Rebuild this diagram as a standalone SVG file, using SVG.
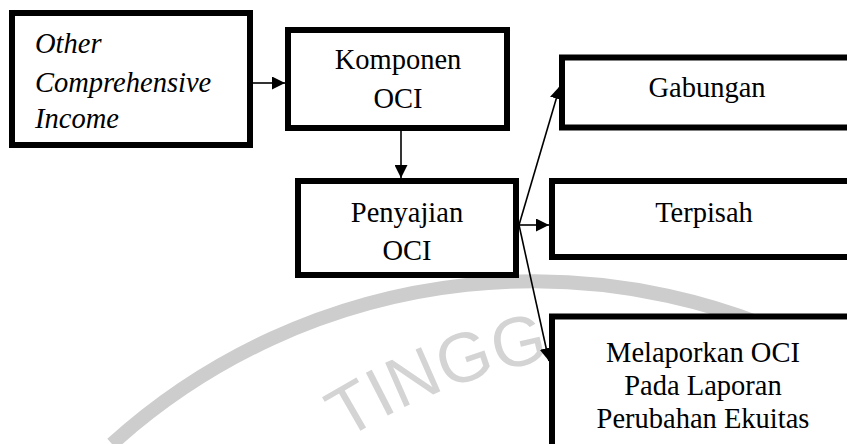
<svg xmlns="http://www.w3.org/2000/svg" width="847" height="444" viewBox="0 0 847 444">
<style>
.box{fill:#fff;stroke:#000;stroke-width:6}
.t{font-family:"Liberation Serif","Times New Roman",serif;font-size:28.5px;fill:#000}
.c{text-anchor:middle}
.i{font-style:italic}
.conn{stroke:#000;stroke-width:1.6;fill:none}
.wm{fill:none;stroke:#cdcdcd;stroke-width:14}
.wmt{font-family:"Liberation Sans",sans-serif;font-size:70px;fill:#d4d4d4}
</style>
<defs>
<marker id="ah" markerUnits="userSpaceOnUse" markerWidth="13" markerHeight="13" refX="13" refY="6.5" orient="auto">
<path d="M0,0 L13,6.5 L0,13 z" fill="#000"/>
</marker>
<path id="wmarc" d="M 345,440 A 600 600 0 0 1 625,350"/>
</defs>
<rect width="847" height="444" fill="#fff"/>
<g id="watermark">
<path class="wm" d="M 112,444 A 628 628 0 0 1 847,365"/>
<text class="wmt"><textPath href="#wmarc">TINGG</textPath></text>
</g>
<g id="connectors">
<line class="conn" x1="253" y1="83" x2="285" y2="83" marker-end="url(#ah)"/>
<line class="conn" x1="401" y1="131" x2="401" y2="178" marker-end="url(#ah)"/>
<line class="conn" x1="519" y1="225" x2="549" y2="225" marker-end="url(#ah)"/>
<line class="conn" x1="519" y1="225" x2="560" y2="86" marker-end="url(#ah)"/>
<line class="conn" x1="519" y1="225" x2="549" y2="361" marker-end="url(#ah)"/>
</g>
<g id="node-oci">
<rect class="box" x="12" y="13" width="238" height="132"/>
<text class="t i" x="35" y="53">Other</text>
<text class="t i" x="35" y="92">Comprehensive</text>
<text class="t i" x="35" y="128">Income</text>
</g>
<g id="node-komponen">
<rect class="box" x="288" y="30" width="219" height="98"/>
<text class="t c" x="398" y="69">Komponen</text>
<text class="t c" x="398" y="108">OCI</text>
</g>
<g id="node-penyajian">
<rect class="box" x="298" y="181" width="218" height="94"/>
<text class="t c" x="407" y="222">Penyajian</text>
<text class="t c" x="407" y="260">OCI</text>
</g>
<g id="node-gabungan">
<rect class="box" x="562" y="57.5" width="300" height="70"/>
<text class="t c" x="707" y="97">Gabungan</text>
</g>
<g id="node-terpisah">
<rect class="box" x="552" y="181" width="310" height="76"/>
<text class="t c" x="704" y="222">Terpisah</text>
</g>
<g id="node-melaporkan">
<rect class="box" x="552" y="316.5" width="310" height="200"/>
<text class="t c" x="703" y="362">Melaporkan OCI</text>
<text class="t c" x="703" y="395">Pada Laporan</text>
<text class="t c" x="703" y="428">Perubahan Ekuitas</text>
</g>
</svg>
